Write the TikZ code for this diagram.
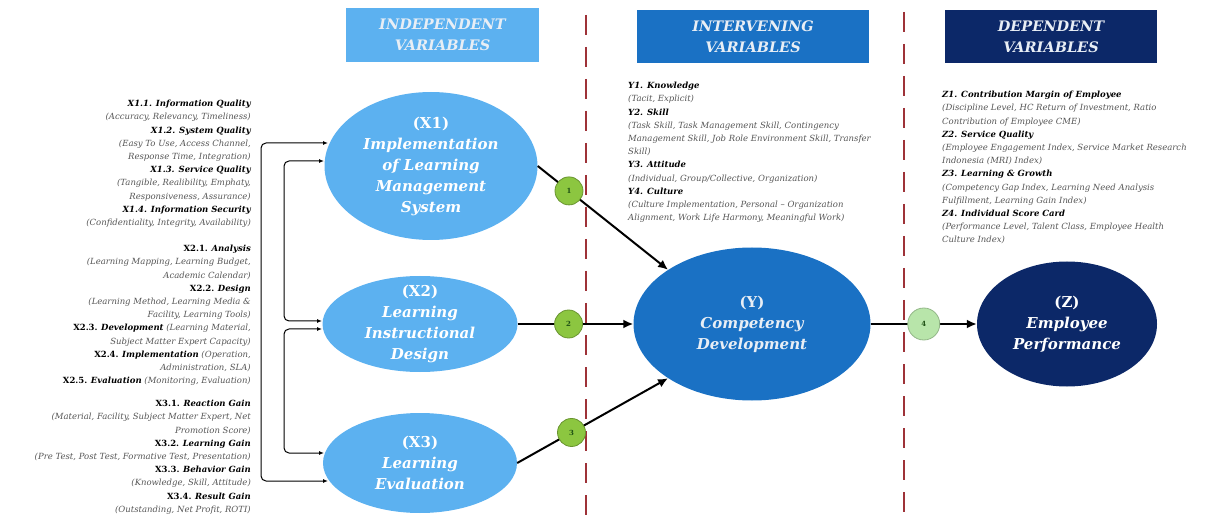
\documentclass[tikz,border=0pt]{standalone}
\usepackage{fontspec}
\setmainfont{DejaVu Serif}
\usetikzlibrary{shapes.geometric,arrows.meta}

\definecolor{skyblue}{RGB}{92,177,240}
\definecolor{midblue}{RGB}{26,113,196}
\definecolor{navyblue}{RGB}{12,40,104}
\definecolor{sepred}{RGB}{158,50,56}
\definecolor{leafgreen}{RGB}{140,198,64}
\definecolor{palegreen}{RGB}{184,229,170}
\definecolor{numgreen}{RGB}{30,80,20}
\definecolor{descgrey}{RGB}{85,85,85}
\definecolor{headwhite}{RGB}{232,238,245}

\newcommand{\hd}[1]{{\color{black}\bfseries\itshape #1}}
\newcommand{\hdn}[1]{{\color{black}\bfseries\upshape #1}}

\tikzset{
  hdrbox/.style={minimum height=53, inner sep=0, align=center, text=headwhite,
    font=\bfseries\itshape\fontsize{14.5}{21}\selectfont},
  var/.style={ellipse, inner sep=-20pt, align=center, text=white,
    font=\bfseries\itshape\fontsize{15}{21}\selectfont},
  num/.style={circle, minimum size=28, inner sep=0, fill=leafgreen, draw=leafgreen!75!black,
    line width=0.8, text=numgreen, font=\bfseries\fontsize{7}{7}\selectfont},
  link/.style={line width=2, -{Latex[length=10,width=9]}},
  brk/.style={line width=1, {Latex[length=5,width=4]}-{Latex[length=5,width=4]}, rounded corners=5},
  sep/.style={sepred, line width=2.5, dash pattern=on 20 off 12},
  blk/.style={inner sep=0, text=descgrey, font=\itshape\fontsize{8.5}{13.2}\selectfont},
}

\begin{document}
\begin{tikzpicture}[x=1pt, y=-1pt]
\useasboundingbox (0,0) rectangle (1220,518);

\node[hdrbox, fill=skyblue, minimum width=193, minimum height=54] (hx) at (442.5,35) {INDEPENDENT\\VARIABLES};
\node[hdrbox, fill=midblue, minimum width=232] (hy) at (753,37) {INTERVENING\\VARIABLES};
\node[hdrbox, fill=navyblue, minimum width=212] (hz) at (1051,37) {DEPENDENT\\VARIABLES};

\draw[sep] (586,15) -- (586,515);
\draw[sep] (904,12) -- (904,512);

\node[var, fill=skyblue, minimum width=213, minimum height=148] (x1) at (431,166) {{\upshape (X1)}\\Implementation\\of Learning\\Management\\System};
\node[var, fill=skyblue, minimum width=195, minimum height=96] (x2) at (420,324) {{\upshape (X2)}\\Learning\\Instructional\\Design};
\node[var, fill=skyblue, minimum width=194, minimum height=100] (x3) at (420,463) {{\upshape (X3)}\\Learning\\Evaluation};
\node[var, fill=midblue, minimum width=237, minimum height=153, text=headwhite] (y) at (752,324) {{\upshape (Y)}\\Competency\\Development};
\node[var, fill=navyblue, minimum width=180, minimum height=125] (z) at (1067,324) {{\upshape (Z)}\\Employee\\Performance};

\draw[link] (x1.east) -- node[num, pos=0.24] (c1) {1} (y.north west);
\draw[link] (x2.east) -- node[num, pos=0.44] (c2) {2} (y.west);
\draw[link] (x3.east) -- node[num, pos=0.36] (c3) {3} (y.south west);
\draw[link] (y.east) -- node[num, pos=0.5, fill=palegreen, draw=palegreen!80!black, minimum size=32] (c4) {4} (z.west);

\coordinate (a1) at (328,143);
\coordinate (a2) at (324,161);
\coordinate (a3) at (322,321);
\coordinate (a4) at (322,329);
\coordinate (a5) at (324,453);
\coordinate (a6) at (328,481);
\draw[brk] (a1) -- ++(-67,0) |- (a6);
\draw[brk] (a2) -- ++(-40,0) |- (a3);
\draw[brk] (a4) -- ++(-38,0) |- (a5);

\node[blk, anchor=north east, align=right] (tx1) at (251,100) {\hd{X1.1. Information Quality}\\
(Accuracy, Relevancy, Timeliness)\\
\hd{X1.2. System Quality}\\
(Easy To Use, Access Channel,\\
Response Time, Integration)\\
\hd{X1.3. Service Quality}\\
(Tangible, Realibility, Emphaty,\\
Responsiveness, Assurance)\\
\hd{X1.4. Information Security}\\
(Confidentiality, Integrity, Availability)};

\node[blk, anchor=north east, align=right] (tx2) at (251,245) {\hdn{X2.1.} \hd{Analysis}\\
(Learning Mapping, Learning Budget,\\
Academic Calendar)\\
\hdn{X2.2.} \hd{Design}\\
(Learning Method, Learning Media \&\\
Facility, Learning Tools)\\
\hdn{X2.3.} \hd{Development} (Learning Material,\\
Subject Matter Expert Capacity)\\
\hdn{X2.4.} \hd{Implementation} (Operation,\\
Administration, SLA)\\
\hdn{X2.5.} \hd{Evaluation} (Monitoring, Evaluation)};

\node[blk, anchor=north east, align=right] (tx3) at (251,400) {\hdn{X3.1.} \hd{Reaction Gain}\\
(Material, Facility, Subject Matter Expert, Net\\
Promotion Score)\\
\hdn{X3.2.} \hd{Learning Gain}\\
(Pre Test, Post Test, Formative Test, Presentation)\\
\hdn{X3.3.} \hd{Behavior Gain}\\
(Knowledge, Skill, Attitude)\\
\hdn{X3.4.} \hd{Result Gain}\\
(Outstanding, Net Profit, ROTI)};

\node[blk, anchor=north west, align=left] (ty) at (628,82) {\hd{Y1. Knowledge}\\
(Tacit, Explicit)\\
\hd{Y2. Skill}\\
(Task Skill, Task Management Skill, Contingency\\
Management Skill, Job Role Environment Skill, Transfer\\
Skill)\\
\hd{Y3. Attitude}\\
(Individual, Group/Collective, Organization)\\
\hd{Y4. Culture}\\
(Culture Implementation, Personal -- Organization\\
Alignment, Work Life Harmony, Meaningful Work)};

\node[blk, anchor=north west, align=left] (tz) at (942,91) {\hd{Z1. Contribution Margin of Employee}\\
(Discipline Level, HC Return of Investment, Ratio\\
Contribution of Employee CME)\\
\hd{Z2. Service Quality}\\
(Employee Engagement Index, Service Market Research\\
Indonesia (MRI) Index)\\
\hd{Z3. Learning \& Growth}\\
(Competency Gap Index, Learning Need Analysis\\
Fulfillment, Learning Gain Index)\\
\hd{Z4. Individual Score Card}\\
(Performance Level, Talent Class, Employee Health\\
Culture Index)};
\end{tikzpicture}
\end{document}
